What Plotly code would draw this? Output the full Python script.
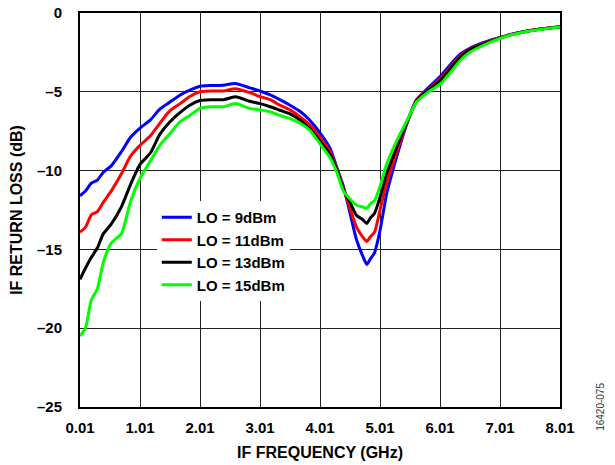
import plotly.graph_objects as go

# IF frequency points (GHz)
freq = [0.01, 0.1, 0.2, 0.3, 0.4, 0.53, 0.7, 0.85, 1.01, 1.18, 1.34, 1.51, 1.68, 1.84,
        2.01, 2.2, 2.4, 2.6, 2.84, 3.01, 3.18, 3.34, 3.51, 3.68, 3.84, 4.01, 4.18, 4.29,
        4.4, 4.51, 4.62, 4.72, 4.79, 4.85, 4.92, 5.01, 5.12, 5.29, 5.45, 5.62, 5.8, 6.02,
        6.2, 6.35, 6.5, 6.68, 6.85, 7.02, 7.2, 7.35, 7.5, 7.68, 7.85, 8.01]

# IF return loss (dB) for each LO drive level
rl_9dbm = [-11.6, -11.3, -10.8, -10.6, -10.1, -9.7, -8.8, -7.9, -7.3, -6.8, -6.1, -5.65, -5.2, -4.9,
           -4.65, -4.6, -4.58, -4.47, -4.75, -4.95, -5.2, -5.5, -5.85, -6.25, -6.8, -7.6, -8.6, -9.8,
           -11.0, -12.7, -14.4, -15.4, -15.95, -15.6, -15.2, -13.8, -11.5, -9.1, -7.1, -5.5, -4.8, -4.0,
           -3.2, -2.6, -2.25, -1.95, -1.72, -1.55, -1.35, -1.22, -1.12, -1.02, -0.94, -0.87]
rl_11dbm = [-13.9, -13.6, -12.8, -12.6, -12.0, -11.3, -10.2, -9.1, -8.4, -7.8, -7.0, -6.2, -5.75, -5.3,
            -5.0, -4.95, -4.95, -4.8, -5.05, -5.3, -5.5, -5.85, -6.15, -6.6, -7.1, -7.9, -8.8, -9.9,
            -11.1, -12.4, -13.6, -14.2, -14.5, -14.2, -13.9, -12.5, -10.8, -8.8, -7.05, -5.55, -4.9, -4.15,
            -3.35, -2.7, -2.3, -2.0, -1.75, -1.56, -1.36, -1.23, -1.12, -1.02, -0.94, -0.87]
rl_13dbm = [-16.9, -16.2, -15.5, -14.9, -14.0, -13.4, -12.3, -10.9, -9.6, -8.9, -7.7, -6.9, -6.3, -5.85,
            -5.55, -5.5, -5.5, -5.32, -5.6, -5.75, -5.95, -6.17, -6.4, -6.8, -7.35, -8.15, -9.0, -10.0,
            -11.2, -12.0, -12.85, -13.1, -13.35, -13.0, -12.7, -11.7, -10.2, -8.5, -7.0, -5.6, -4.95, -4.25,
            -3.45, -2.8, -2.35, -2.05, -1.8, -1.57, -1.37, -1.24, -1.13, -1.03, -0.95, -0.88]
rl_15dbm = [-20.5, -20.0, -18.2, -17.5, -15.8, -14.6, -14.0, -12.0, -10.5, -9.4, -8.4, -7.65, -6.9, -6.5,
            -6.05, -5.95, -5.95, -5.75, -6.05, -6.15, -6.27, -6.5, -6.7, -7.0, -7.45, -8.3, -9.2, -10.1,
            -11.3, -11.8, -12.2, -12.3, -12.4, -12.1, -11.9, -11.0, -9.6, -8.1, -6.9, -5.65, -5.05, -4.5,
            -3.7, -3.0, -2.5, -2.15, -1.85, -1.6, -1.38, -1.25, -1.14, -1.04, -0.96, -0.88]

series_names = ['LO = 9dBm', 'LO = 11dBm', 'LO = 13dBm', 'LO = 15dBm']
series_colors = ['#0000ff', '#ff0000', '#000000', '#00ff00']

x_ticks = [0.01, 1.01, 2.01, 3.01, 4.01, 5.01, 6.01, 7.01, 8.01]
y_ticks = [0, -5, -10, -15, -20, -25]
y_labels = ['0', '\u20135', '\u201310', '\u201315', '\u201320', '\u201325']

FONT = 'Liberation Sans, Arial, sans-serif'

fig = go.Figure()
for name, color, vals in zip(series_names, series_colors, [rl_9dbm, rl_11dbm, rl_13dbm, rl_15dbm]):
    fig.add_trace(go.Scatter(x=freq, y=vals, mode='lines', name=name,
                             line=dict(color=color, width=3, shape='spline', smoothing=0.6)))

fig.update_xaxes(range=[0.01, 8.01], tickvals=x_ticks, ticktext=['%.2f' % v for v in x_ticks],
                 showgrid=True, gridcolor='#222222', gridwidth=1.4, zeroline=False,
                 showline=True, mirror=True, linecolor='black', linewidth=2,
                 ticks='', ticklabelstandoff=6, automargin=False, ticklabeloverflow='allow',
                 tickfont=dict(family=FONT, size=15, color='black', weight='bold'),
                 title=dict(text='<b>IF FREQUENCY (GHz)</b>', standoff=12,
                            font=dict(family=FONT, size=16, color='black')))
fig.update_yaxes(range=[-25, 0], tickvals=y_ticks, ticktext=y_labels,
                 showgrid=True, gridcolor='#222222', gridwidth=1.4, zeroline=False,
                 showline=True, mirror=True, linecolor='black', linewidth=2,
                 ticks='', ticklabelstandoff=13, automargin=False, ticklabeloverflow='allow',
                 tickfont=dict(family=FONT, size=15, color='black', weight='bold'),
                 title=dict(text='<b>IF RETURN LOSS (dB)</b>', standoff=10,
                            font=dict(family=FONT, size=16, color='black')))

# Figure number on the right edge
fig.add_annotation(text='16420-075', xref='paper', yref='paper', x=1.083, y=0.0,
                   xanchor='center', yanchor='middle', textangle=-90, showarrow=False,
                   font=dict(family=FONT, size=10, color='#333333'))

fig.update_layout(width=615, height=465, autosize=False,
                  margin=dict(l=80, r=55, t=13, b=58),
                  plot_bgcolor='white', paper_bgcolor='white',
                  legend=dict(x=0.16, y=0.523, xanchor='left', yanchor='top',
                              bgcolor='white', tracegroupgap=0, itemwidth=30,
                              font=dict(family=FONT, size=15, color='black', weight='bold')))

# drop the default page margin so the figure fills the window exactly
fig.write_html('out.html', config={'displayModeBar': False},
               post_script="document.body.style.margin = '0';")
